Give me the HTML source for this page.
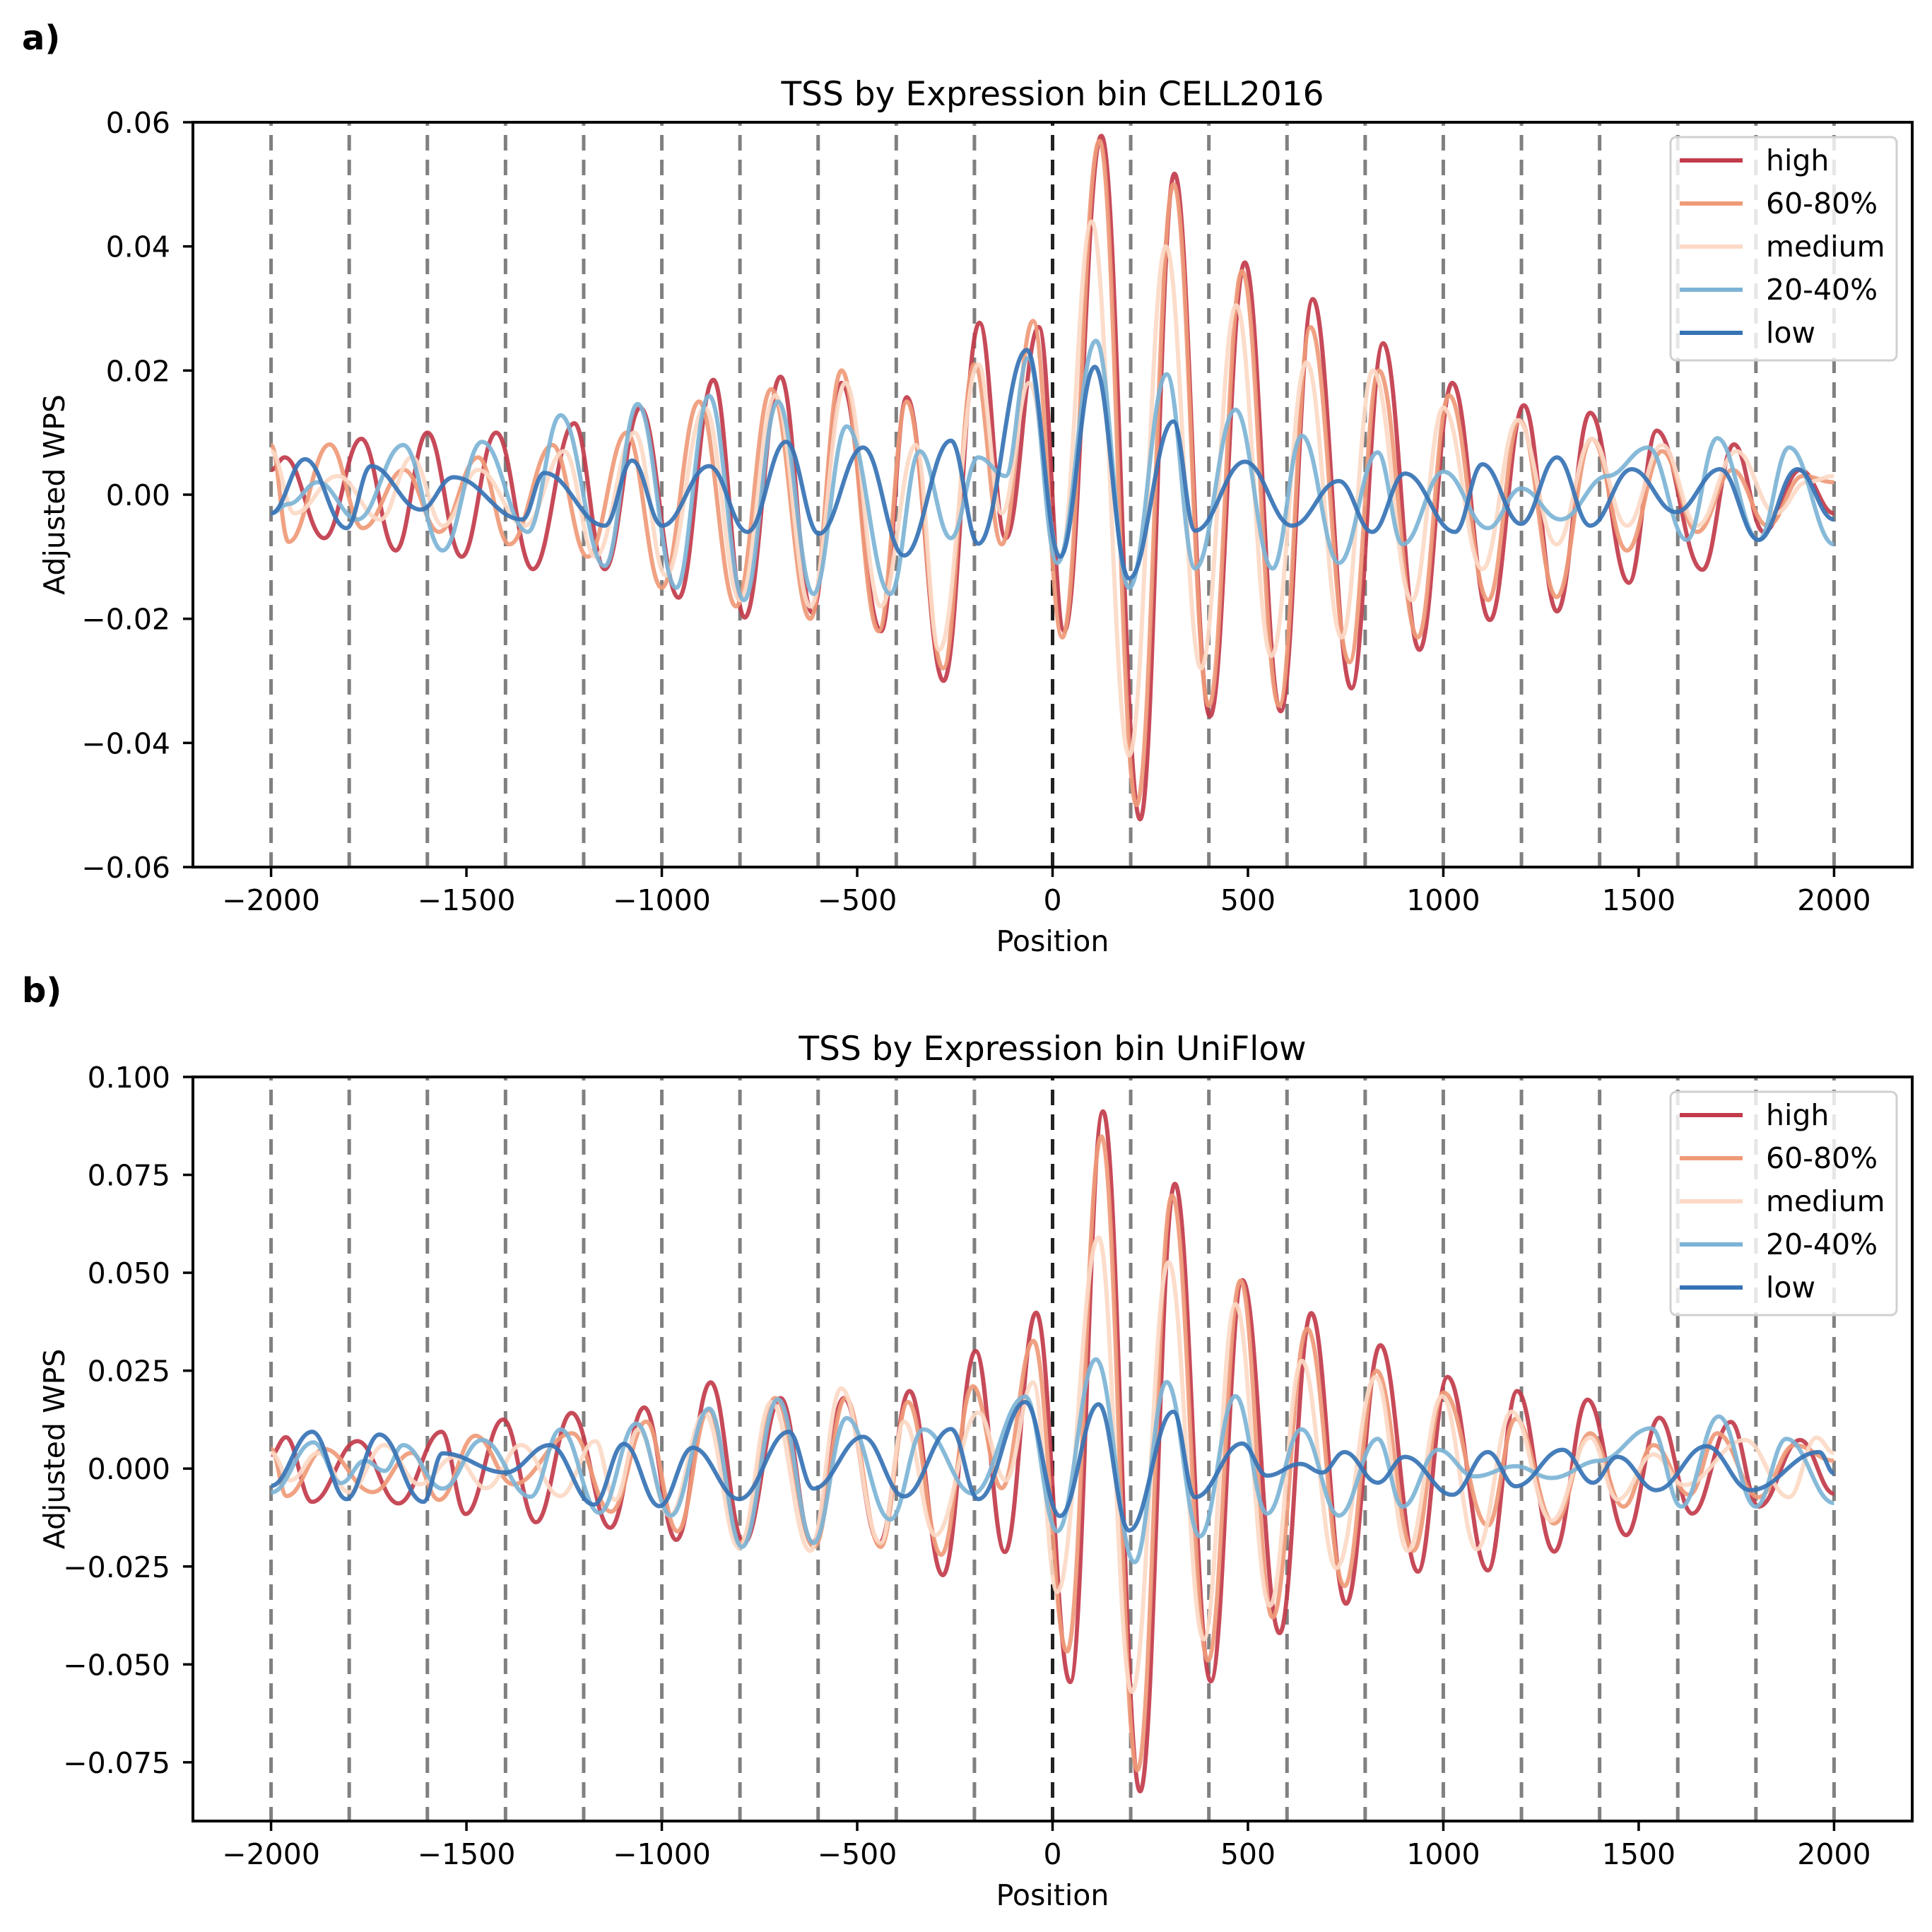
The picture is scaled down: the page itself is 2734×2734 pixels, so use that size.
<!DOCTYPE html>
<html><head><meta charset="utf-8"><style>
html,body{margin:0;padding:0;background:#fff;}
svg{display:block;font-family:"DejaVu Sans","Liberation Sans",sans-serif;}
</style></head><body>
<svg id="fig" width="2734" height="2734" viewBox="0 0 2734 2734" xmlns="http://www.w3.org/2000/svg">
<rect width="2734" height="2734" fill="#fff"/>
<g id="root"></g>
</svg>
<script>
// ---------- Panel a data (CELL2016) ----------
const posA_high=[-2000,-1965,-1864,-1769,-1681,-1600,-1512,-1424,-1330,-1224,-1146,-1055,-957,-868,-788,-696,-615,-540,-439,-373,-279,-187,-120,-35,30,125,224,312,403,492,584,666,765,846,939,1023,1119,1206,1291,1376,1475,1546,1663,1744,1820,1914,2000];
const valA_high=[0.004,0.006,-0.007,0.009,-0.009,0.010,-0.010,0.010,-0.012,0.0115,-0.012,0.014,-0.0166,0.0185,-0.0198,0.019,-0.019,0.018,-0.022,0.0157,-0.030,0.0277,-0.007,0.027,-0.022,0.0578,-0.0523,0.0517,-0.0357,0.0374,-0.0349,0.0315,-0.0312,0.0244,-0.025,0.018,-0.0202,0.0144,-0.0188,0.0132,-0.0142,0.0103,-0.0121,0.0081,-0.006,0.004,-0.003];
const posA_p6080=[-2000,-1955,-1850,-1765,-1660,-1570,-1470,-1390,-1280,-1190,-1090,-1000,-905,-810,-720,-620,-540,-445,-373,-280,-200,-130,-50,25,120,215,310,400,485,580,660,760,835,935,1015,1115,1195,1290,1380,1470,1560,1650,1740,1830,1920,2000];
const valA_p6080=[0.008,-0.0076,0.0081,-0.0054,0.004,-0.006,0.006,-0.008,0.008,-0.010,0.010,-0.015,0.015,-0.018,0.017,-0.020,0.020,-0.022,0.015,-0.028,0.021,-0.008,0.028,-0.023,0.057,-0.050,0.050,-0.034,0.036,-0.034,0.027,-0.027,0.020,-0.023,0.016,-0.017,0.012,-0.0165,0.009,-0.009,0.007,-0.006,0.004,-0.005,0.003,0.002];
const posA_medium=[-2000,-1940,-1830,-1720,-1640,-1560,-1470,-1350,-1250,-1170,-1070,-990,-890,-800,-710,-620,-530,-440,-350,-290,-190,-130,-60,20,100,196,290,380,470,560,650,740,820,920,1000,1100,1190,1290,1380,1470,1560,1650,1750,1850,1930,2000];
const valA_medium=[0.007,-0.003,0.003,-0.004,0.006,-0.005,0.004,-0.005,0.007,-0.010,0.010,-0.013,0.014,-0.017,0.016,-0.018,0.018,-0.018,0.008,-0.025,0.021,-0.003,0.018,-0.010,0.044,-0.042,0.040,-0.028,0.0305,-0.026,0.0213,-0.023,0.020,-0.017,0.014,-0.012,0.012,-0.008,0.009,-0.005,0.008,-0.005,0.007,-0.003,0.002,0.003];
const posA_p2040=[-2000,-1955,-1880,-1779,-1662,-1561,-1460,-1343,-1259,-1146,-1062,-963,-879,-790,-703,-612,-527,-415,-340,-260,-190,-120,-63,12,111,196,292,365,468,563,638,733,832,896,1001,1114,1199,1300,1420,1524,1623,1701,1807,1885,2000];
const valA_p2040=[-0.003,-0.0015,0.002,-0.004,0.008,-0.009,0.0085,-0.006,0.0128,-0.0115,0.0146,-0.015,0.0159,-0.017,0.015,-0.016,0.011,-0.016,0.007,-0.007,0.006,0.003,0.022,-0.011,0.0248,-0.015,0.0194,-0.0119,0.0137,-0.0119,0.0095,-0.011,0.0068,-0.008,0.0037,-0.0054,0.001,-0.004,0.003,0.0076,-0.0073,0.0091,-0.0073,0.0076,-0.008];
const posA_low=[-2000,-1913,-1807,-1744,-1617,-1533,-1357,-1301,-1146,-1076,-999,-879,-781,-682,-598,-485,-380,-260,-190,-66,19,108,196,309,365,492,613,733,818,902,1030,1100,1199,1291,1376,1482,1595,1708,1807,1906,2000];
const valA_low=[-0.003,0.0057,-0.0054,0.0046,-0.0024,0.0028,-0.004,0.0035,-0.005,0.0055,-0.005,0.0046,-0.006,0.0085,-0.0063,0.0076,-0.0098,0.0087,-0.0079,0.0233,-0.010,0.0206,-0.0135,0.0118,-0.0058,0.0053,-0.005,0.0022,-0.006,0.0034,-0.006,0.0049,-0.0047,0.006,-0.005,0.0041,-0.0028,0.0041,-0.0073,0.0041,-0.004];

// ---------- Panel b data (UniFlow) ----------
const posB_high=[-2000,-1962,-1895,-1779,-1674,-1564,-1502,-1406,-1322,-1231,-1132,-1045,-963,-875,-790,-696,-615,-534,-443,-366,-281,-197,-122,-42,45,129,224,313,405,486,581,662,751,839,935,1011,1114,1189,1284,1369,1468,1553,1637,1736,1807,1913,2000];
const valB_high=[0.0035,0.008,-0.0085,0.007,-0.0089,0.0094,-0.0116,0.0125,-0.0137,0.0142,-0.0151,0.0156,-0.0182,0.022,-0.019,0.018,-0.019,0.018,-0.019,0.0198,-0.0272,0.030,-0.0213,0.0398,-0.0545,0.0912,-0.0824,0.0727,-0.0543,0.0481,-0.042,0.0397,-0.0345,0.0315,-0.0263,0.0234,-0.026,0.0198,-0.0212,0.0176,-0.017,0.013,-0.0115,0.0119,-0.0097,0.0073,-0.0064];
const posB_p6080=[-2000,-1960,-1864,-1740,-1640,-1570,-1477,-1380,-1230,-1130,-1040,-960,-880,-800,-710,-610,-530,-440,-370,-285,-204,-130,-49,37,125,217,306,398,481,563,652,747,829,923,1001,1114,1185,1284,1376,1461,1538,1630,1701,1807,1899,2000];
const valB_p6080=[0.005,-0.007,0.005,-0.006,0.004,-0.008,0.0084,-0.004,0.009,-0.011,0.012,-0.016,0.015,-0.019,0.018,-0.020,0.018,-0.020,0.017,-0.022,0.021,-0.005,0.0326,-0.0467,0.0848,-0.077,0.0697,-0.049,0.048,-0.038,0.0357,-0.030,0.025,-0.021,0.0194,-0.0145,0.0127,-0.014,0.009,-0.0097,0.006,-0.0067,0.009,-0.0073,0.006,0.002];
const posB_medium=[-2000,-1950,-1880,-1800,-1710,-1620,-1530,-1450,-1360,-1260,-1170,-1120,-1060,-980,-890,-802,-720,-620,-541,-440,-380,-300,-190,-120,-50,12,118,203,297,387,468,556,638,726,827,909,997,1086,1175,1277,1376,1446,1538,1616,1772,1885,1955,2000];
const valB_medium=[0.004,-0.003,0.004,-0.006,0.006,-0.004,0.003,-0.005,0.006,-0.007,0.007,-0.008,0.010,-0.012,0.014,-0.0203,0.017,-0.021,0.0205,-0.019,0.012,-0.017,0.0143,-0.003,0.022,-0.0315,0.059,-0.057,0.0527,-0.0436,0.042,-0.035,0.0275,-0.0254,0.0234,-0.021,0.0185,-0.0206,0.0145,-0.0133,0.0079,-0.0079,0.0036,-0.0042,0.0073,-0.0073,0.0079,0.004];
const posB_p2040=[-2000,-1892,-1821,-1760,-1709,-1662,-1561,-1460,-1336,-1259,-1160,-1065,-977,-879,-795,-703,-612,-527,-415,-330,-204,-70,12,111,210,292,377,468,549,637,733,832,896,987,1080,1185,1277,1400,1532,1609,1705,1800,1878,2000];
const valB_p2040=[-0.0061,0.0067,-0.0037,0.002,-0.0006,0.006,-0.0051,0.0073,-0.0072,0.010,-0.0113,0.0115,-0.012,0.0153,-0.020,0.0177,-0.019,0.0129,-0.013,0.010,-0.0064,0.0184,-0.016,0.0279,-0.0239,0.0221,-0.0173,0.0185,-0.0115,0.010,-0.012,0.0076,-0.0097,0.0048,-0.002,0.0006,-0.0024,0.002,0.0103,-0.0097,0.0133,-0.0097,0.0076,-0.0088];
const posB_low=[-2000,-1895,-1807,-1723,-1610,-1561,-1400,-1287,-1174,-1097,-1006,-921,-802,-675,-612,-485,-380,-260,-190,-70,19,118,196,309,365,485,549,634,690,747,832,902,1023,1114,1185,1305,1383,1446,1545,1673,1786,1962,2000];
const valB_low=[-0.0044,0.0094,-0.0078,0.0087,-0.0085,0.0039,-0.001,0.006,-0.0092,0.0063,-0.0096,0.0053,-0.0078,0.0094,-0.0051,0.0081,-0.0071,0.0101,-0.0078,0.017,-0.0121,0.0164,-0.0158,0.0145,-0.0073,0.0064,-0.0018,0.0012,-0.001,0.0042,-0.0036,0.003,-0.0067,0.0042,-0.0045,0.0048,-0.0036,0.003,-0.0055,0.0057,-0.0055,0.0042,-0.0012];

// ---------- tick / label arrays ----------
const xTicks=[-2000,-1500,-1000,-500,0,500,1000,1500,2000];
const vLines=[-2000,-1800,-1600,-1400,-1200,-1000,-800,-600,-400,-200,0,200,400,600,800,1000,1200,1400,1600,1800,2000];
const yTicksA=[-0.06,-0.04,-0.02,0,0.02,0.04,0.06];
const yTicksB=[-0.075,-0.05,-0.025,0,0.025,0.05,0.075,0.1];
const seriesNames=["high","60-80%","medium","20-40%","low"];
const seriesColors=["#c23b4b","#ef9a78","#fcd9c6","#7db4d6","#3673b5"];

const NS="http://www.w3.org/2000/svg";
const root=document.getElementById('root');
function mk(tag,attrs,parent){const e=document.createElementNS(NS,tag);for(const k in attrs)e.setAttribute(k,attrs[k]);(parent||root).appendChild(e);return e;}
function fmt(v,d){const s=Math.abs(v).toFixed(d);return (v<0?"\u2212":"")+s;}

function panel(cfg){
  const L=273,R=2706,T=cfg.top,B=cfg.bottom;
  const xmin=-2200,xmax=2200;
  const sx=v=>L+(v-xmin)/(xmax-xmin)*(R-L);
  const sy=v=>B-(v-cfg.ymin)/(cfg.ymax-cfg.ymin)*(B-T);
  const g=mk('g',{});
  
  
  const clipId='clip-'+cfg.id;
  const cp=mk('clipPath',{id:clipId},g);mk('rect',{x:L,y:T,width:R-L,height:B-T},cp);
  const plot=mk('g',{'clip-path':'url(#'+clipId+')'},g);
  vLines.forEach(v=>{
    const ln=mk('line',{x1:sx(v),x2:sx(v),y1:T,y2:B,stroke:v===0?'#222':'#808080','stroke-width':5,'stroke-dasharray':'22 13','stroke-dashoffset':-18},plot);
    
    
  });
  cfg.series.forEach((s,i)=>{
    const xs=s[0],ys=s[1];
    let d='M'+sx(xs[0]).toFixed(1)+','+sy(ys[0]).toFixed(1);
    for(let k=1;k<xs.length;k++){
      const x0=sx(xs[k-1]),y0=sy(ys[k-1]),x1=sx(xs[k]),y1=sy(ys[k]);
      const dx=x1-x0;
      d+=' C'+(x0+dx*0.4).toFixed(1)+','+y0.toFixed(1)+' '+(x1-dx*0.4).toFixed(1)+','+y1.toFixed(1)+' '+x1.toFixed(1)+','+y1.toFixed(1);
    }
    const p=mk('path',{d:d,fill:'none',stroke:seriesColors[i],'stroke-width':6,'stroke-opacity':0.92,'stroke-linejoin':'round'},plot);
    
    
  });
  const fr=mk('rect',{x:L,y:T,width:R-L,height:B-T,fill:'none',stroke:'#000','stroke-width':4},g);
  
  
  xTicks.forEach(v=>{
    mk('line',{x1:sx(v),x2:sx(v),y1:B,y2:B+14,stroke:'#000','stroke-width':3.5},g);
    const t=mk('text',{x:sx(v),y:B+61,'font-size':41,'text-anchor':'middle',fill:'#000'},g);
    t.textContent=fmt(v,0);
    
    
  });
  cfg.yTicks.forEach(v=>{
    mk('line',{x1:L-14,x2:L,y1:sy(v),y2:sy(v),stroke:'#000','stroke-width':3.5},g);
    const t=mk('text',{x:L-32,y:sy(v)+15,'font-size':41,'text-anchor':'end',fill:'#000'},g);
    t.textContent=fmt(v,cfg.dec);
    
    
  });
  const tt=mk('text',{x:(L+R)/2,y:T-24,'font-size':47,'text-anchor':'middle',fill:'#000'},g);
  tt.textContent=cfg.title;
  
  
  const xl=mk('text',{x:(L+R)/2,y:B+119,'font-size':41,'text-anchor':'middle',fill:'#000'},g);
  xl.textContent='Position';
  
  
  const yc=(T+B)/2;
  const yl=mk('text',{x:91,y:yc,'font-size':41,'text-anchor':'middle',fill:'#000',transform:'rotate(-90 91 '+yc+')'},g);
  yl.textContent='Adjusted WPS';
  
  
  const pl=mk('text',{x:31,y:cfg.labelY,'font-size':48,'font-weight':'bold',fill:'#000'},g);
  pl.textContent=cfg.label;
  
  
  const lg=mk('g',{},g);
  
  
  const lt=T+21;
  mk('rect',{x:2364,y:lt,width:320,height:316,rx:8,fill:'#fff','fill-opacity':0.8,stroke:'#d0d0d0','stroke-width':3},lg);
  seriesNames.forEach((n,i)=>{
    const yy=lt+33+i*61;
    const ln=mk('line',{x1:2377,x2:2466,y1:yy,y2:yy,stroke:seriesColors[i],'stroke-width':6},lg);
    
    
    const t=mk('text',{x:2499,y:yy+14,'font-size':41,fill:'#000'},lg);
    t.textContent=n;
    
    
  });
}

panel({id:'panel-a',top:173,bottom:1227,ymin:-0.06,ymax:0.06,yTicks:yTicksA,dec:2,title:'TSS by Expression bin CELL2016',label:'a)',labelY:70,
  series:[[posA_high,valA_high],[posA_p6080,valA_p6080],[posA_medium,valA_medium],[posA_p2040,valA_p2040],[posA_low,valA_low]]});
panel({id:'panel-b',top:1524,bottom:2577,ymin:-0.09,ymax:0.1,yTicks:yTicksB,dec:3,title:'TSS by Expression bin UniFlow',label:'b)',labelY:1418,
  series:[[posB_high,valB_high],[posB_p6080,valB_p6080],[posB_medium,valB_medium],[posB_p2040,valB_p2040],[posB_low,valB_low]]});
</script>
</body></html>
